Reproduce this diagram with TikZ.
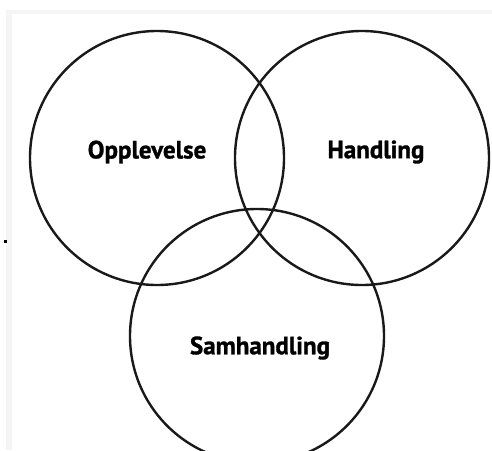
\documentclass[tikz,border=0pt]{standalone}
\usepackage{fontspec}
\setmainfont{PT Sans}
\newfontfamily\lblfont[FakeBold=1.2]{PT Sans Bold}
\begin{document}
\begin{tikzpicture}[x=1pt,y=-1pt,
  ring/.style={draw=black!90,line width=2.4pt,circle,minimum size=254pt,inner sep=0pt},
  lbl/.style={font=\lblfont\fontsize{25}{28}\selectfont,inner sep=0pt}]
\useasboundingbox (0,0) rectangle (492,450);
\fill[black!4] (6,10) rectangle (492,450);
\fill[white] (12,14) rectangle (492,450);
\fill[black] (4,239.5) rectangle (7,242.5);
\node[ring] (c1) at (157,158) {};
\node[ring] (c2) at (362,158) {};
\node[ring] (c3) at (257,336) {};
\node[lbl] (t1) at (147,152) {Opplevelse};
\node[lbl] (t2) at (376,152) {Handling};
\node[lbl] (t3) at (260,348) {Samhandling};
\end{tikzpicture}
\end{document}
